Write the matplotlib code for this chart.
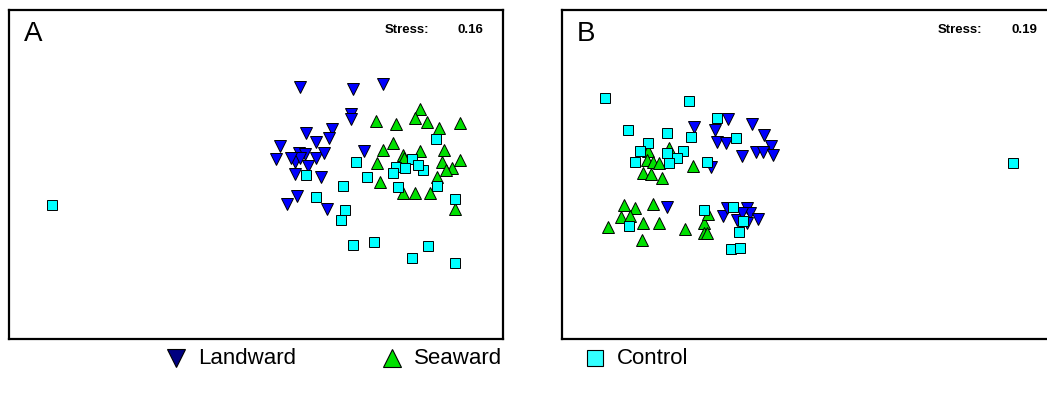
import matplotlib
matplotlib.use("Agg")
import matplotlib.pyplot as plt

plt.rcParams["font.family"] = ["Liberation Sans", "DejaVu Sans"]

# ordination scores (screen units, y grows downwards)
a_land_x = [300, 353, 383, 351, 351, 332, 306, 329, 316, 280, 276, 299, 305, 295, 300,
            316, 324, 308, 295, 321, 364, 297, 287, 327, 291]
a_land_y = [87, 89, 84, 114, 119, 129, 133, 138, 142, 146, 159, 153, 154, 162, 158,
            158, 153, 166, 174, 177, 151, 196, 204, 209, 158]
a_sea_x = [376, 396, 420, 415, 427, 439, 460, 383, 393, 403, 420, 444, 377, 442, 460,
           452, 380, 403, 415, 430, 437, 455, 404, 446]
a_sea_y = [121, 124, 109, 118, 122, 128, 123, 150, 143, 155, 151, 150, 163, 162, 160,
           168, 182, 193, 193, 193, 177, 209, 158, 170]
a_ctl_x = [52, 436, 356, 412, 396, 405, 423, 393, 306, 367, 343, 316, 398, 437, 455,
           345, 341, 353, 374, 428, 412, 455, 418]
a_ctl_y = [205, 139, 162, 159, 167, 168, 170, 173, 175, 177, 186, 197, 187, 186, 199,
           210, 220, 245, 242, 246, 258, 263, 165]

b_land_x = [728, 752, 694, 715, 764, 771, 717, 726, 742, 756, 763, 773, 711,
            667, 723, 727, 737, 747, 750, 742, 758, 747]
b_land_y = [119, 124, 127, 130, 135, 146, 142, 143, 156, 152, 152, 155, 167,
            207, 216, 208, 220, 208, 213, 213, 219, 223]
b_sea_x = [648, 669, 647, 653, 659, 693, 643, 651, 662, 624, 635, 653, 621, 630, 608,
           643, 659, 685, 704, 704, 707, 708, 642]
b_sea_y = [151, 148, 160, 162, 163, 166, 173, 174, 178, 205, 208, 204, 217, 216, 227,
           223, 223, 229, 223, 233, 233, 214, 240]
b_ctl_x = [605, 689, 628, 667, 717, 691, 736, 648, 640, 667, 683, 635, 677, 669, 707,
           629, 704, 733, 743, 739, 731, 740, 1013]
b_ctl_y = [98, 101, 130, 133, 118, 137, 138, 143, 151, 153, 151, 162, 158, 163, 162,
           226, 210, 207, 221, 232, 249, 248, 163]

stress_a = 0.16
stress_b = 0.19
groups = ["Landward", "Seaward", "Control"]

land_col = "#0000FF"
sea_col = "#00E000"
ctl_col = "#00FFFF"

W, H = 1047, 398
fig = plt.figure(figsize=(W / 100, H / 100), dpi=100)


def make_panel(left, right, top, bottom, label, stress, land, sea, ctl):
    ax = fig.add_axes([left / W, 1 - bottom / H, (right - left) / W, (bottom - top) / H])
    ax.set_xlim(left, right)
    ax.set_ylim(bottom, top)
    ax.set_xticks([])
    ax.set_yticks([])
    for s in ax.spines.values():
        s.set_linewidth(1.6)
    kw = dict(markeredgecolor="black", markeredgewidth=0.7, linestyle="none")
    ax.plot(land[0], land[1], "v", color=land_col, markersize=9, **kw)
    ax.plot(sea[0], sea[1], "^", color=sea_col, markersize=9, **kw)
    ax.plot(ctl[0], ctl[1], "s", color=ctl_col, markersize=7.5, **kw)
    ax.text(left + 15, 21, label, fontsize=20, va="top", ha="left")
    ax.text(left + 376, 30, "Stress:", fontsize=9.5, fontweight="bold", va="center", ha="left")
    ax.text(left + 449, 30, f"{stress:.2f}", fontsize=9.5, fontweight="bold", va="center", ha="left")
    return ax


make_panel(9, 503, 10, 339, "A", stress_a,
           (a_land_x, a_land_y), (a_sea_x, a_sea_y), (a_ctl_x, a_ctl_y))
make_panel(562, 1065, 10, 339, "B", stress_b,
           (b_land_x, b_land_y), (b_sea_x, b_sea_y), (b_ctl_x, b_ctl_y))

# legend row along the bottom
leg = fig.add_axes([0, 0, 1, 1])
leg.set_xlim(0, W)
leg.set_ylim(H, 0)
leg.axis("off")
leg_marks = [("v", "#000080", 13), ("^", "#00E000", 13), ("s", "#33FFFF", 11)]
leg_x = [176, 392, 595]
for (m, c, ms), x, name in zip(leg_marks, leg_x, groups):
    leg.plot([x], [358], m, color=c, markersize=ms, markeredgecolor="black",
             markeredgewidth=0.8, linestyle="none")
    leg.text(x + 22, 358, name, fontsize=16, va="center", ha="left")

fig.savefig("out.png", dpi=100)
